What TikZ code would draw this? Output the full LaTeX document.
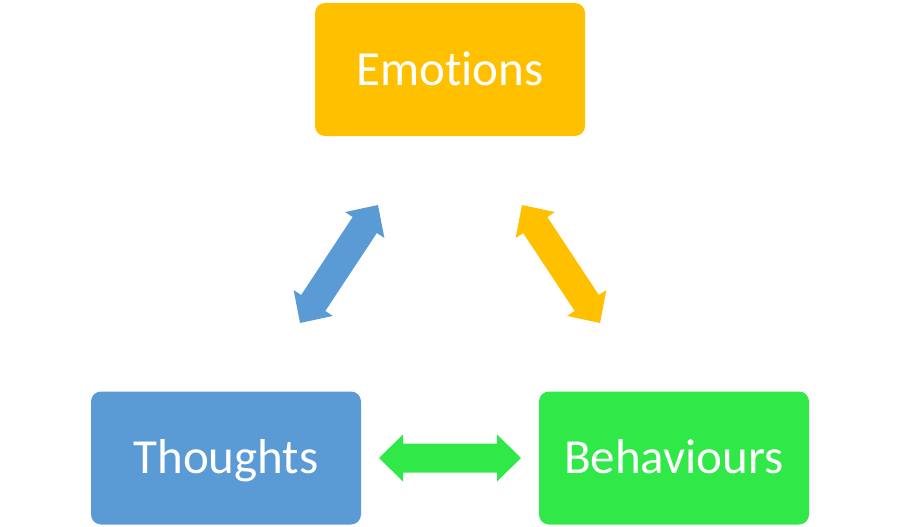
\documentclass[tikz,border=0pt]{standalone}
\usepackage{fontspec}
\setmainfont{Carlito}[Ligatures=NoCommon]
\usetikzlibrary{calc}
\definecolor{emoc}{HTML}{FFC000}
\definecolor{thoc}{HTML}{5B9BD5}
\definecolor{behc}{HTML}{30E848}
\tikzset{
  box/.style={rectangle, rounded corners=10pt, minimum width=270pt, minimum height=133pt,
    inner sep=0pt, text=white, font=\fontsize{49}{59}\selectfont, text height=31.5pt, text depth=0pt},
}
\newcommand\blockarrow[3]{%
  \fill[#1]
    (#2)
    -- ($($(#2)!24pt!(#3)$)!23.5pt!90:(#3)$)
    -- ($($(#2)!24pt!(#3)$)!14.5pt!90:(#3)$)
    -- ($($(#3)!24pt!(#2)$)!14.5pt!-90:(#2)$)
    -- ($($(#3)!24pt!(#2)$)!23.5pt!-90:(#2)$)
    -- (#3)
    -- ($($(#3)!24pt!(#2)$)!23.5pt!90:(#2)$)
    -- ($($(#3)!24pt!(#2)$)!14.5pt!90:(#2)$)
    -- ($($(#2)!24pt!(#3)$)!14.5pt!-90:(#3)$)
    -- ($($(#2)!24pt!(#3)$)!23.5pt!-90:(#3)$)
    -- cycle;}
\begin{document}
\begin{tikzpicture}[x=1pt,y=-1pt]
\useasboundingbox (0,0) rectangle (900,527);
\node[box, fill=emoc] (emo) at (450,69.5) {Emotions};
\node[box, fill=thoc] (tho) at (226,458) {Thoughts};
\node[box, fill=behc] (beh) at (674,458) {Behaviours};
\coordinate (b1) at (300,323);
\coordinate (b2) at (378,205);
\coordinate (o1) at (522,205);
\coordinate (o2) at (600,323);
\coordinate (g1) at (379,458);
\coordinate (g2) at (521,458);
\blockarrow{thoc}{b1}{b2}
\blockarrow{emoc}{o1}{o2}
\blockarrow{behc}{g1}{g2}
\end{tikzpicture}
\end{document}
